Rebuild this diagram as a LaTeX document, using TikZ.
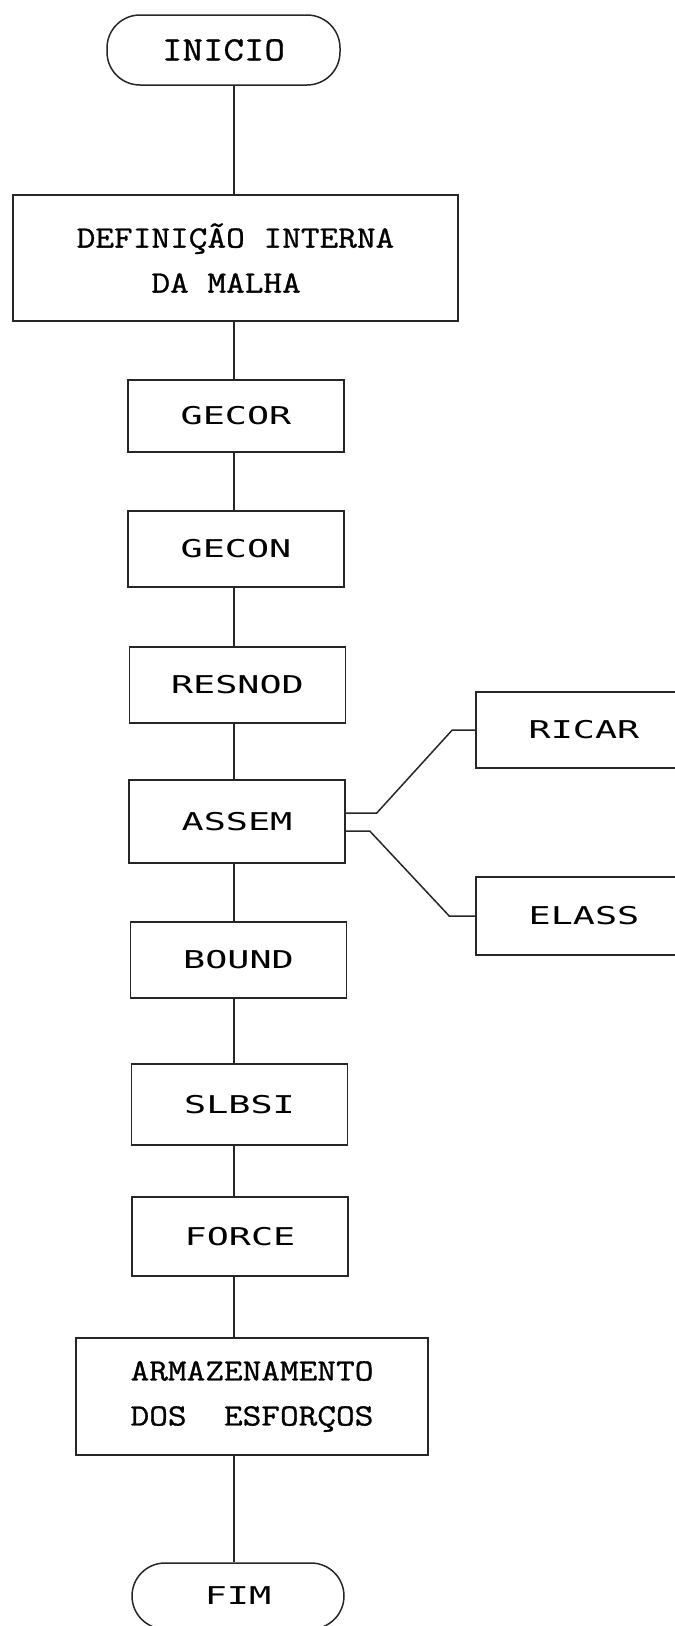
\documentclass[tikz,border=0pt]{standalone}
\usepackage{fontspec}
\setmonofont[FakeStretch=1.17, FakeBold=1]{Latin Modern Mono}
\newfontfamily\dotfont[FakeStretch=1.5]{DejaVu Sans Mono}

\begin{document}
\begin{tikzpicture}[
    x=1pt, y=-1pt,
    line/.style     = {line width=1.5pt, draw=black!85},
    block/.style    = {draw=black!85, line width=1.5pt, inner sep=0pt,
                       minimum width=216pt, minimum height=77pt},
    terminal/.style = {block, rounded corners=33pt},
    dotlbl/.style   = {font=\dotfont\fontsize{24.5}{30}\selectfont},
    ttlbl/.style    = {font=\ttfamily\fontsize{31}{45}\selectfont, align=left}
]
\useasboundingbox (0,0) rectangle (675,1626);

% start terminal and mesh definition
\node[terminal, ttlbl, font=\ttfamily\fontsize{34}{40}\selectfont,
      minimum width=233pt, minimum height=70pt] (inicio) at (223.5, 50) {INICIO};
\node[block, ttlbl, minimum width=445pt, minimum height=126pt] (defin) at (235.5, 258)
    {DEFINIÇÃO INTERNA\\\phantom{XXXX}DA MALHA};

% subroutine chain
\foreach \name/\txt/\x/\y/\h in {gecor/GECOR/236/416/72, gecon/GECON/236/549/76,
        resnod/RESNOD/237.5/685/76, assem/ASSEM/237/821.5/83, bound/BOUND/238.5/960/76,
        slbsi/SLBSI/239.5/1104.5/81, force/FORCE/240/1236.5/79}
    \node[block, dotlbl, minimum height=\h pt] (\name) at (\x, \y) {\txt};

% storage and end terminal
\node[block, ttlbl, minimum width=352pt, minimum height=117pt] (armaz) at (252, 1396.5)
    {ARMAZENAMENTO\\DOS\ \ ESFORÇOS};
\node[terminal, dotlbl, minimum width=212pt, minimum height=66pt] (fim) at (238, 1596) {FIM};

% routines called by ASSEM
\node[block, dotlbl, minimum height=76pt] (ricar) at (584, 730) {RICAR};
\node[block, dotlbl, minimum height=78pt] (elass) at (584, 916) {ELASS};

% main spine
\coordinate (spine) at (234, 0);
\foreach \a/\b in {inicio/defin, defin/gecor, gecor/gecon, gecon/resnod, resnod/assem,
        assem/bound, bound/slbsi, slbsi/force, force/armaz, armaz/fim}
    \draw[line] (\a.south -| spine) -- (\b.north -| spine);

% branch connectors
\draw[line] ([yshift=8.5pt]assem.east) -- ++(31,0) -- ([xshift=-23pt]ricar.west) -- (ricar.west);
\draw[line] ([yshift=-9.5pt]assem.east) -- ++(24,0) -- ([xshift=-26pt]elass.west) -- (elass.west);

\end{tikzpicture}
\end{document}
